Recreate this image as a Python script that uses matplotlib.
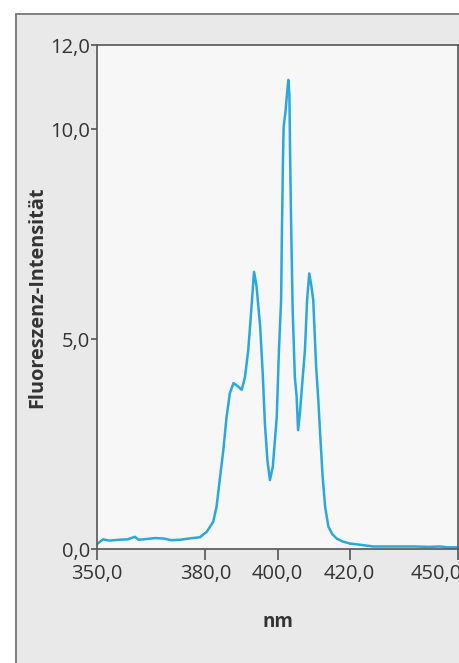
import matplotlib
matplotlib.use("Agg")
import matplotlib.pyplot as plt
import matplotlib.transforms as mtransforms
from matplotlib.patches import Rectangle
from matplotlib.ticker import FuncFormatter

wavelength = [350.0, 350.5, 351.7, 353.5, 356.0, 358.5, 360.5, 361.5, 364.0, 366.0,
              368.5, 370.5, 373.0, 375.5, 378.5, 380.4, 382.2, 383.1, 383.6, 384.1,
              385.0, 385.9, 386.8, 387.8, 389.1, 390.1, 391.0, 391.9, 392.6, 393.5,
              394.2, 395.2, 395.9, 396.5, 397.2, 397.9, 398.7, 399.8, 400.4, 401.0,
              401.2, 401.5, 401.7, 402.2, 402.7, 403.0, 403.3, 403.5, 403.8, 404.2,
              404.8, 405.3, 405.7, 406.2, 407.0, 407.6, 408.2, 408.8, 409.4, 409.9,
              410.7, 411.3, 411.8, 412.5, 413.2, 414.1, 415.2, 416.4, 418.0, 420.1,
              423.0, 426.5, 432.0, 438.0, 442.0, 445.0, 447.0, 450.0]
intensity = [0.12, 0.15, 0.23, 0.20, 0.22, 0.23, 0.29, 0.22, 0.24, 0.26,
             0.25, 0.21, 0.22, 0.25, 0.28, 0.41, 0.65, 1.00, 1.35, 1.72,
             2.36, 3.15, 3.71, 3.95, 3.87, 3.79, 4.10, 4.74, 5.53, 6.60,
             6.25, 5.29, 4.19, 3.00, 2.12, 1.64, 1.96, 3.15, 4.74, 5.93,
             7.40, 9.20, 10.05, 10.40, 10.90, 11.17, 10.80, 9.30, 7.60, 5.69,
             4.10, 3.63, 2.83, 3.23, 4.10, 4.74, 5.93, 6.56, 6.25, 5.93,
             4.34, 3.55, 2.75, 1.72, 1.00, 0.53, 0.35, 0.25, 0.18, 0.13,
             0.10, 0.06, 0.06, 0.06, 0.05, 0.06, 0.04, 0.04]

x_ticks = [350, 380, 400, 420, 450]
y_ticks = [0, 5, 10, 12]
x_label = "nm"
y_label = "Fluoreszenz-Intensität"

plt.rcParams['font.family'] = ['Open Sans', 'DejaVu Sans']
text_color = "#333333"

fig = plt.figure(figsize=(4.6, 6.63), dpi=100)
fig.patch.set_facecolor("white")
panel = Rectangle((16/460, -0.1), 1.2, 1.1 - 14/663, transform=fig.transFigure,
                  facecolor="#e9e9e9", edgecolor="#777777", linewidth=1.3, zorder=-10)
fig.add_artist(panel)

ax = fig.add_axes([97/460, 1 - 549/663, (458 - 97)/460, (549 - 45)/663])
ax.set_zorder(1)
ax.set_facecolor("#f7f7f7")
ax.plot(wavelength, intensity, color="#2aa8dc", linewidth=1.8, solid_joinstyle="round")
ax.set_xlim(350, 450)
ax.set_ylim(0, 12)
ax.set_xticks(x_ticks)
ax.set_yticks(y_ticks)
fmt = FuncFormatter(lambda v, p: f"{v:.1f}".replace(".", ","))
ax.xaxis.set_major_formatter(fmt)
ax.yaxis.set_major_formatter(fmt)
for s in ax.spines.values():
    s.set_color("#555555")
    s.set_linewidth(1.2)
ax.tick_params(axis="x", length=8, width=1.2, color="#555555", labelsize=14.5, labelcolor=text_color, pad=3)
ax.tick_params(axis="y", length=4, width=1.2, color="#555555", labelsize=14.5, labelcolor=text_color, pad=1)
ax.set_xlabel(x_label, fontsize=13.5, fontweight="bold", color=text_color, labelpad=20)
ax.set_ylabel(y_label, fontsize=14.3, fontweight="bold", color=text_color, labelpad=2)

fig.canvas.draw()
last = ax.get_xticklabels()[-1]
last.set_horizontalalignment("right")
last.set_transform(last.get_transform() + mtransforms.ScaledTranslation(4/100, 0, fig.dpi_scale_trans))

fig.savefig("out.png", dpi=100)
